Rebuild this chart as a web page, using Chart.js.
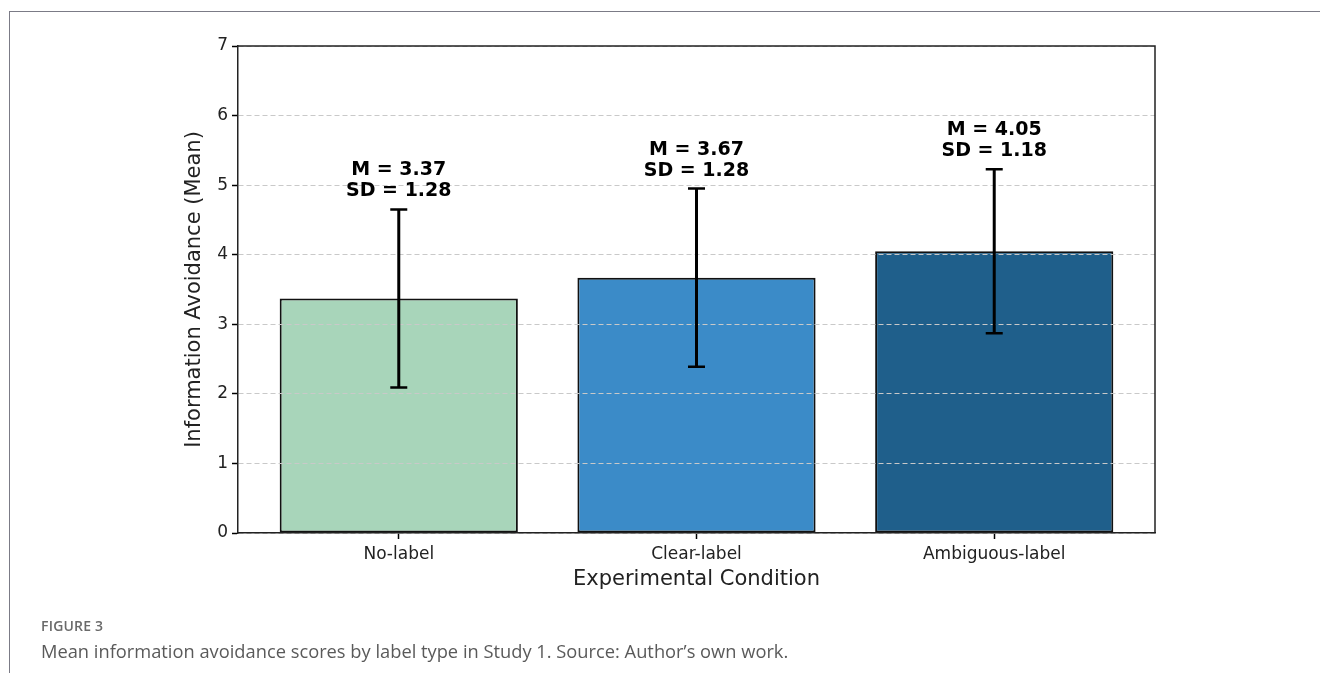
<!DOCTYPE html>
<html>
<head>
<meta charset="utf-8">
<script src="https://cdn.jsdelivr.net/npm/chart.js@4/dist/chart.umd.min.js"></script>
<style>
html,body{margin:0;padding:0;background:#fff;}
#wrap{position:relative;width:1320px;height:673px;overflow:hidden;}
#frame{position:absolute;left:9px;top:11px;width:1320px;height:700px;border-left:1px solid #7b7b86;border-top:1px solid #7b7b86;}
#box{position:absolute;left:0;top:0;width:1320px;height:673px;}
#fig{position:absolute;left:41px;top:616px;font:600 14px "Open Sans",sans-serif;color:#6a6a6a;letter-spacing:.2px;}
#cap{position:absolute;left:41px;top:638px;font:18.3px "Open Sans",sans-serif;color:#5a5a5a;}
</style>
</head>
<body>
<div id="wrap">
  <div id="frame"></div>
  <div id="box"><canvas id="c"></canvas></div>
  <div id="fig">FIGURE 3</div>
  <div id="cap">Mean information avoidance scores by label type in Study 1. Source: Author’s own work.</div>
</div>
<script>
'use strict';
const CATS=['No-label','Clear-label','Ambiguous-label'];
const XPOS=[0,1,2];
const MEANS=[3.37,3.67,4.05];
const SDS=[1.28,1.28,1.18];
const COLORS=['#a8d5ba','#3b8bc8','#1f5f8b'];
const Y_TICKS=[0,1,2,3,4,5,6,7];
const FONT='"DejaVu Sans"';

// error bars, M/SD text and top/right spines
const extras={
  id:'extras',
  afterDraw(chart){
    const {ctx,chartArea:a,scales:{x,y}}=chart;
    ctx.save();
    ctx.strokeStyle='#000';ctx.lineCap='butt';
    XPOS.forEach((v,i)=>{
      const px=x.getPixelForValue(v);
      const top=y.getPixelForValue(MEANS[i]+SDS[i]),bot=y.getPixelForValue(MEANS[i]-SDS[i]);
      ctx.lineWidth=3;
      ctx.beginPath();ctx.moveTo(px,top);ctx.lineTo(px,bot);ctx.stroke();
      ctx.lineWidth=2.5;
      ctx.beginPath();ctx.moveTo(px-8.5,top);ctx.lineTo(px+8.5,top);ctx.moveTo(px-8.5,bot);ctx.lineTo(px+8.5,bot);ctx.stroke();
      ctx.fillStyle='#000';ctx.font='bold 19px '+FONT;ctx.textAlign='center';ctx.textBaseline='middle';
      ctx.fillText('SD = '+SDS[i].toFixed(2),px,top-18);
      ctx.fillText('M = '+MEANS[i].toFixed(2),px,top-39);
    });
    ctx.lineWidth=1.5;ctx.strokeStyle='#222';
    ctx.beginPath();ctx.moveTo(a.left,a.top);ctx.lineTo(a.right,a.top);ctx.lineTo(a.right,a.bottom);ctx.stroke();
    ctx.restore();
  }
};

new Chart(document.getElementById('c'),{
  type:'bar',
  data:{datasets:[{
    data:XPOS.map((v,i)=>({x:v,y:MEANS[i]})),
    backgroundColor:COLORS,borderColor:'#111',borderWidth:2,borderSkipped:false,
    barPercentage:0.8,categoryPercentage:1
  }]},
  options:{
    responsive:true,maintainAspectRatio:false,animation:false,
    layout:{padding:{left:175,right:165,top:46,bottom:80}},
    plugins:{legend:{display:false},tooltip:{enabled:false}},
    scales:{
      x:{type:'linear',min:-0.54,max:2.54,offset:false,
        afterBuildTicks:s=>{s.ticks=XPOS.map(v=>({value:v}));},
        afterFit:s=>{s.height=60;},
        grid:{offset:false,drawOnChartArea:false,drawTicks:true,tickLength:6,tickColor:'#000',tickWidth:1.5},
        border:{display:true,color:'#222',width:1.5,z:2},
        ticks:{autoSkip:false,maxRotation:0,padding:5,color:'#222',font:{family:FONT,size:17},callback:v=>CATS[XPOS.indexOf(v)]},
        title:{display:true,text:'Experimental Condition',color:'#222',font:{family:FONT,size:21},padding:{top:0,bottom:1}}
      },
      y:{min:0,max:7,
        afterBuildTicks:s=>{s.ticks=Y_TICKS.map(v=>({value:v}));},
        afterFit:s=>{s.width=63;},
        grid:{color:'#c9c9c9',lineWidth:1,z:1,tickLength:6,tickColor:'#000',tickWidth:1.5,tickBorderDash:[]},
        border:{display:true,color:'#222',width:1.5,dash:[5,3],z:2},
        ticks:{padding:4,color:'#222',font:{family:FONT,size:17}},
        title:{display:true,text:'Information Avoidance (Mean)',color:'#222',font:{family:FONT,size:21},padding:{top:7,bottom:0}}
      }
    }
  },
  plugins:[extras]
});
</script>
</body>
</html>
